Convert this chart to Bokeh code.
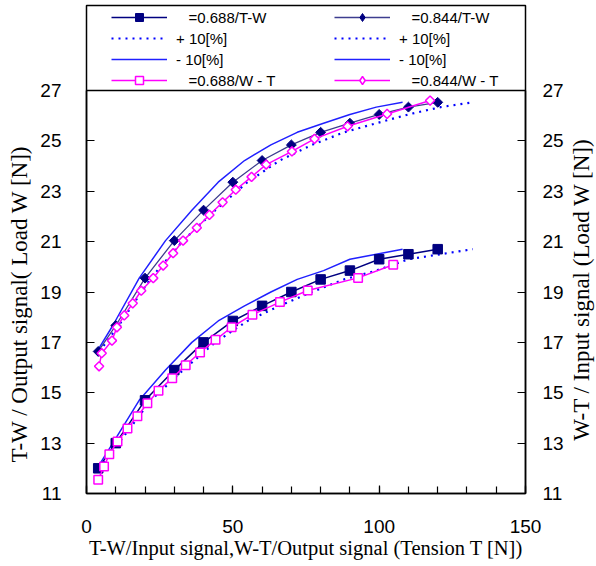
import math
from bokeh.plotting import figure
from bokeh.models import (Range1d, LinearAxis, FixedTicker, SingleIntervalTicker,
                          Legend, LegendItem, Span, Title, Label)
from bokeh.embed import file_html
from bokeh.resources import INLINE

# ---------------- data ----------------
T_tw = [4, 10, 20, 30, 40, 50, 60, 70, 80, 90, 100, 110, 120]
W_688_tw = [12.0, 13.0, 14.7, 15.9, 17.0, 17.85, 18.45, 19.0, 19.5, 19.85, 20.3, 20.5, 20.7]
W_844_tw = [16.64, 17.67, 19.55, 21.04, 22.25, 23.36, 24.22, 24.84, 25.34, 25.7, 26.05, 26.34, 26.53]

T_minus10 = [3.6, 9, 18, 27, 36, 45, 54, 63, 72, 81, 90, 99, 108]
T_plus10 = [4.4, 11, 22, 33, 44, 55, 66, 77, 88, 99, 110, 121, 132]

T_wt688 = [4.0, 6.0, 7.8, 10.6, 14.0, 17.4, 20.8, 24.6, 29.3, 33.9, 38.8, 44.1, 49.6,
           56.7, 66.1, 75.6, 92.8, 104.8]
W_wt688 = [11.55, 12.07, 12.56, 13.06, 13.58, 14.07, 14.58, 15.08, 15.58, 16.09, 16.6,
           17.1, 17.6, 18.1, 18.6, 19.06, 19.56, 20.08]

T_wt844 = [4.3, 5.2, 8.7, 10.4, 12.9, 15.8, 18.7, 22.8, 26.2, 29.6, 33.0, 37.7, 42.0,
           46.5, 51.0, 56.4, 61.4, 70.2, 77.9, 89.2, 102.7, 117.4]
W_wt844 = [16.05, 16.57, 17.07, 17.6, 18.07, 18.55, 19.05, 19.55, 20.05, 20.54, 21.04,
           21.55, 22.06, 22.56, 23.06, 23.57, 24.06, 24.58, 25.08, 25.58, 26.07, 26.6]

x_ticks = [0, 50, 100, 150]
y_ticks = [11, 13, 15, 17, 19, 21, 23, 25, 27]

labels = ["\u00a0\u00a0\u00a0=0.688/T-W", "+ 10[%]", "- 10[%]", "\u00a0\u00a0\u00a0=0.688/W - T",
          "\u00a0\u00a0\u00a0=0.844/T-W", "+ 10[%]", "- 10[%]", "\u00a0\u00a0\u00a0=0.844/W - T"]
x_title = "T-W/Input signal,W-T/Output signal (Tension T [N])"
yl_title = "T-W / Output signal( Load W [N])"
yr_title = "W-T / Input signal (Load W [N])"

# ---------------- layout / styles ----------------
NAVY = "#000080"
NAVY2 = "#3d3d8f"
BLUE = "#2020ff"
DOT = "#0000ff"
PINK = "#ff00ff"
SANS = "Liberation Sans"
SERIF = "Liberation Serif"

W_FIG, H_FIG = 596, 566
B_LEFT, B_RIGHT, B_TOP, B_BOTTOM = 82, 71, 5, 73
PLOT_PX = 403          # height of the data area (y 11..27)
LEGEND_PX = 85         # legend band on top of the data area
y0, y1 = y_ticks[0], y_ticks[-1]
y_end = y1 + LEGEND_PX * (y1 - y0) / PLOT_PX

p = figure(width=W_FIG, height=H_FIG, output_backend="svg", toolbar_location=None,
           x_range=Range1d(x_ticks[0], x_ticks[-1]), y_range=Range1d(y0, y_end),
           min_border_left=B_LEFT, min_border_right=B_RIGHT,
           min_border_top=B_TOP, min_border_bottom=B_BOTTOM)
p.outline_line_color = "black"
p.outline_line_width = 1.5
p.xgrid.visible = False
p.ygrid.visible = False
p.background_fill_color = "white"
p.border_fill_color = "white"

# bottom axis
xa = p.xaxis[0]
xa.ticker = SingleIntervalTicker(interval=50, num_minor_ticks=5)
xa.major_tick_in = 8
xa.major_tick_out = 0
xa.minor_tick_in = 7
xa.minor_tick_out = 0
xa.axis_line_color = "black"
xa.axis_line_width = 1.5
xa.major_tick_line_width = 1.2
xa.minor_tick_line_width = 1.2
xa.major_label_text_font = SANS
xa.major_label_text_font_size = "19px"
xa.major_label_text_color = "black"
xa.major_label_standoff = 26
xa.axis_label = x_title
xa.axis_label_text_font = SERIF
xa.axis_label_text_font_style = "normal"
xa.axis_label_text_font_size = "20.5px"
xa.axis_label_text_color = "black"
xa.axis_label_standoff = 1

def style_y(ax, standoff):
    ax.ticker = FixedTicker(ticks=y_ticks)
    ax.bounds = (y0, y1)
    ax.major_tick_in = 8
    ax.major_tick_out = 0
    ax.minor_tick_line_color = None
    ax.axis_line_color = "black"
    ax.axis_line_width = 1.5
    ax.major_tick_line_width = 1.2
    ax.major_label_text_font = SANS
    ax.major_label_text_font_size = "19px"
    ax.major_label_text_color = "black"
    ax.major_label_standoff = standoff

ya = p.yaxis[0]
style_y(ya, 25)

ra = LinearAxis()
style_y(ra, 17)
p.add_layout(ra, "right")

# left title: starts just above the bottom of the data area, reads upwards
p.add_layout(Title(text=yl_title, align="left", offset=31, vertical_align="middle",
                   standoff=10, text_font=SERIF, text_font_size="23px",
                   text_font_style="normal", text_color="black"), "left")

# right title: reads upwards like the reference
p.add_layout(Label(x=581, y=289, x_units="canvas", y_units="canvas", text=yr_title,
                   angle=90, angle_units="deg", text_align="center",
                   text_baseline="middle", text_font=SERIF, text_font_size="23px",
                   text_color="black"), "right")

# top edge of the data area
p.add_layout(Span(location=y1, dimension="width", line_color="black", line_width=1.5))

# ---------------- series ----------------
m688 = p.line(T_minus10, W_688_tw, line_color=BLUE, line_width=1.5)
m844 = p.line(T_minus10, W_844_tw, line_color=BLUE, line_width=1.5)
p688 = p.line(T_plus10, W_688_tw, line_color=DOT, line_width=2.2, line_dash="2 5")
p844 = p.line(T_plus10, W_844_tw, line_color=DOT, line_width=2.2, line_dash="2 5")

l688 = p.line(T_tw, W_688_tw, line_color=NAVY, line_width=1.5)
s688 = p.scatter(T_tw, W_688_tw, marker="square", size=9.5, fill_color=NAVY, line_color=NAVY)
l844 = p.line(T_tw, W_844_tw, line_color=NAVY2, line_width=1.3)
s844 = p.scatter(T_tw, W_844_tw, marker="square", angle=math.pi / 4, size=7, fill_color=NAVY,
                 line_color=NAVY)
# same points as a diamond glyph, used only for the legend sample
s844_key = p.scatter(T_tw, W_844_tw, marker="diamond", size=10, fill_color=NAVY,
                     line_color=NAVY, visible=False)

lw688 = p.line(T_wt688, W_wt688, line_color=PINK, line_width=1.5)
sw688 = p.scatter(T_wt688, W_wt688, marker="square", size=8.5, fill_color="white",
                  line_color=PINK, line_width=1.5)
lw844 = p.line(T_wt844, W_wt844, line_color=PINK, line_width=1.5)
sw844 = p.scatter(T_wt844, W_wt844, marker="square", angle=math.pi / 4, size=6.5,
                  fill_color="white", line_color=PINK, line_width=1.5)
sw844_key = p.scatter(T_wt844, W_wt844, marker="diamond", size=10, fill_color="white",
                      line_color=PINK, line_width=1.5, visible=False)

# ---------------- legend (inside the top band) ----------------
def make_legend(items, x):
    return Legend(items=items, location=(x, 403), orientation="vertical",
                  glyph_width=56, glyph_height=20, label_height=20, spacing=1,
                  label_standoff=9, padding=0, margin=0, click_policy="none",
                  inactive_fill_alpha=0,
                  label_text_font=SANS, label_text_font_size="15px",
                  label_text_color="black",
                  border_line_alpha=0, background_fill_alpha=0)

leg1 = make_legend([
    LegendItem(label=labels[0], renderers=[l688, s688]),
    LegendItem(label=labels[1], renderers=[p688]),
    LegendItem(label=labels[2], renderers=[m688]),
    LegendItem(label=labels[3], renderers=[lw688, sw688]),
], 25)
leg2 = make_legend([
    LegendItem(label=labels[4], renderers=[l844, s844_key]),
    LegendItem(label=labels[5], renderers=[p844]),
    LegendItem(label=labels[6], renderers=[m844]),
    LegendItem(label=labels[7], renderers=[lw844, sw844_key]),
], 248)
p.add_layout(leg1, "center")
p.add_layout(leg2, "center")

open("out.html", "w").write(file_html(p, INLINE))
